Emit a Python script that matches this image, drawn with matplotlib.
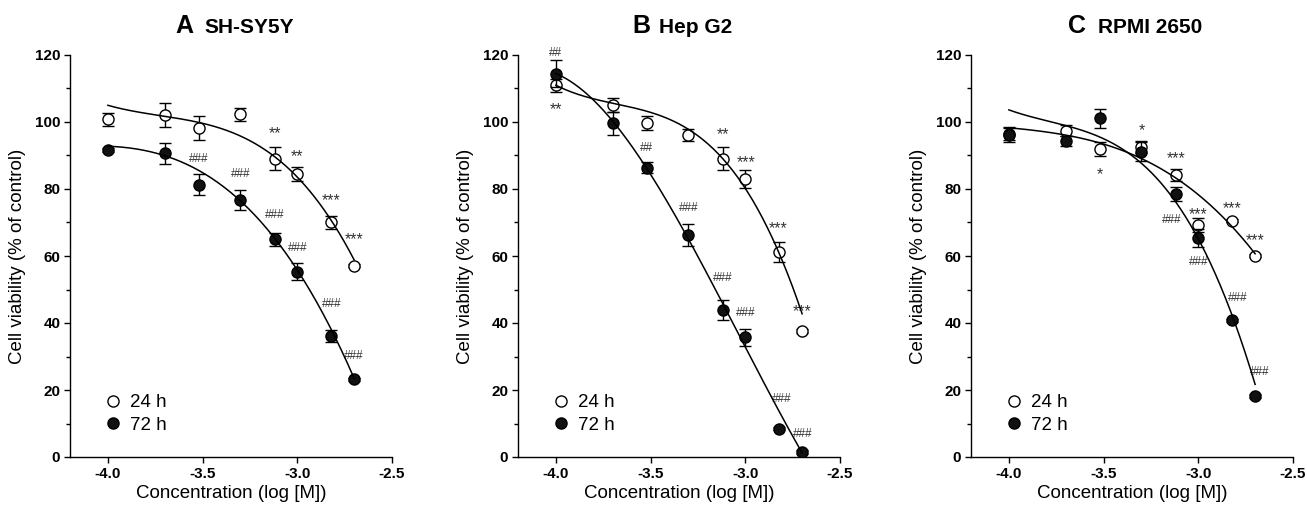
import numpy as np
import matplotlib
matplotlib.use("Agg")
import matplotlib.pyplot as plt
from matplotlib.ticker import MultipleLocator

plt.rcParams['font.family'] = ['Liberation Sans', 'DejaVu Sans']

# concentrations (log M): 0.1, 0.2, 0.3, 0.5, 0.75, 1, 1.5, 2 mM
conc = [-4.0, -3.70, -3.52, -3.30, -3.12, -3.00, -2.82, -2.70]

panels = ['A', 'B', 'C']
cells = ['SH-SY5Y', 'Hep G2', 'RPMI 2650']

# mean viability (% of control) and SEM
a24 = [100.8, 102.1, 98.1, 102.3, 89.1, 84.5, 70.0, 57.1]
a24_err = [2.0, 3.7, 3.6, 2.0, 3.3, 2.0, 2.0, 0.5]
a72 = [91.6, 90.6, 81.3, 76.7, 65.0, 55.3, 36.2, 23.2]
a72_err = [0.5, 3.0, 3.2, 3.0, 2.0, 2.6, 1.8, 0.5]

b24 = [110.9, 105.1, 99.6, 96.2, 89.1, 82.9, 61.2, 37.6]
b24_err = [2.0, 2.0, 2.1, 1.8, 3.5, 2.7, 3.1, 0.5]
b72 = [114.4, 99.6, 86.4, 66.4, 43.8, 35.7, 8.5, 1.5]
b72_err = [4.0, 3.5, 1.7, 3.3, 3.0, 2.6, 0.5, 0.5]

c24 = [96.5, 97.4, 92.0, 92.5, 84.3, 69.2, 70.5, 60.1]
c24_err = [2.0, 1.7, 2.1, 1.8, 1.8, 2.0, 0.5, 0.5]
c72 = [96.1, 94.3, 101.1, 91.1, 78.4, 65.4, 40.8, 18.2]
c72_err = [2.0, 1.5, 2.8, 2.8, 2.1, 2.7, 0.5, 0.5]

# fitted curves, read at the concentrations
a24_fit = [104.8, 102.4, 99.6, 95.1, 89.4, 84.7, 70.2, 58.8]
a72_fit = [92.8, 90.1, 84.9, 76.9, 65.7, 55.8, 37.1, 24.0]
b24_fit = [110.6, 106.8, 103.1, 96.4, 88.6, 81.2, 61.8, 41.8]
b72_fit = [114.5, 99.8, 86.7, 65.7, 44.3, 32.9, 14.9, 0.5]
c24_fit = [98.4, 95.8, 93.6, 89.8, 83.4, 77.7, 68.7, 60.8]
c72_fit = [103.6, 99.4, 94.6, 87.6, 77.7, 64.7, 40.8, 22.4]

# significance marks: (x, y, text)
a_marks = [(-3.12, 98.1, '**'), (-3.0, 91.3, '**'), (-2.82, 77.9, '***'), (-2.70, 66.5, '***'),
           (-3.52, 88.9, '###'), (-3.30, 84.4, '###'), (-3.12, 72.2, '###'), (-3.0, 62.5, '###'),
           (-2.82, 45.8, '###'), (-2.70, 30.2, '###')]
b_marks = [(-4.0, 120.7, '##'), (-4.0, 105.3, '**'), (-3.52, 92.1, '##'), (-3.12, 97.8, '**'),
           (-2.995, 89.3, '***'), (-3.30, 74.2, '###'), (-2.825, 69.7, '***'), (-3.12, 53.3, '###'),
           (-3.0, 43.1, '###'), (-2.70, 44.8, '***'), (-2.81, 17.4, '###'), (-2.695, 7.0, '###')]
c_marks = [(-3.30, 98.8, '*'), (-3.52, 85.9, '*'), (-3.115, 90.6, '***'), (-3.14, 70.7, '###'),
           (-3.0, 73.9, '***'), (-3.0, 58.1, '###'), (-2.82, 75.7, '***'), (-2.70, 66.2, '***'),
           (-2.79, 47.5, '###'), (-2.675, 25.4, '###')]

data = [(a24, a24_err, a72, a72_err, a24_fit, a72_fit, a_marks),
        (b24, b24_err, b72, b72_err, b24_fit, b72_fit, b_marks),
        (c24, c24_err, c72, c72_err, c24_fit, c72_fit, c_marks)]

letter_x = [0.326, 0.354, 0.301]
name_x = [0.416, 0.438, 0.394]
lefts = [70, 518, 971]

fig = plt.figure(figsize=(13.07, 5.07), dpi=100)

for i in range(3):
    y24, e24, y72, e72, f24, f72, marks = data[i]
    ax = fig.add_axes([lefts[i] / 1307, 50 / 507, 322 / 1307, 402 / 507])

    ax.errorbar(conc, y24, yerr=e24, fmt='o', ms=8, mfc='white', mec='black', mew=1.0,
                ecolor='black', elinewidth=1.0, capsize=4, capthick=1.0, zorder=3, label='24 h')
    ax.errorbar(conc, y72, yerr=e72, fmt='o', ms=8, mfc='#111111', mec='black', mew=1.0,
                ecolor='black', elinewidth=1.0, capsize=4, capthick=1.0, zorder=4, label='72 h')

    # smooth fit lines, drawn over the symbols
    xs = np.linspace(conc[0], conc[-1], 200)
    for f in (f24, f72):
        p = np.polyfit(conc, f, 3)
        ax.plot(xs, np.polyval(p, xs), color='black', lw=1.1, zorder=5)

    for x, y, t in marks:
        if '*' in t:
            ax.text(x, y - 1.5, t, ha='center', va='center', fontsize=11.5, color='#333333')
        else:
            ax.text(x, y, t, ha='center', va='center', fontsize=8.5, color='#333333')

    ax.set_xlim(-4.2, -2.5)
    ax.set_ylim(0, 120)
    ax.set_xticks([-4.0, -3.5, -3.0, -2.5])
    ax.set_xticklabels(['-4.0', '-3.5', '-3.0', '-2.5'])
    ax.yaxis.set_major_locator(MultipleLocator(20))
    ax.yaxis.set_minor_locator(MultipleLocator(10))
    for lab in ax.get_xticklabels() + ax.get_yticklabels():
        lab.set_fontweight('bold')
    ax.tick_params(axis='both', which='major', labelsize=11, length=4, width=1, pad=3)
    ax.tick_params(axis='y', which='minor', length=3, width=1)
    ax.spines['top'].set_visible(False)
    ax.spines['right'].set_visible(False)
    ax.spines['left'].set_linewidth(1)
    ax.spines['bottom'].set_linewidth(1)

    ax.set_xlabel('Concentration (log [M])', fontsize=13.5, labelpad=3)
    ax.set_ylabel('Cell viability (% of control)', fontsize=13.5, labelpad=6)

    ax.text(letter_x[i], 1.055, panels[i], transform=ax.transAxes, fontsize=18,
            fontweight='bold', ha='left', va='baseline')
    ax.text(name_x[i], 1.055, cells[i], transform=ax.transAxes, fontsize=15,
            fontweight='bold', ha='left', va='baseline')

    handles, labels = ax.get_legend_handles_labels()
    handles = [h[0] for h in handles]
    ax.legend(handles, labels, loc='lower left', bbox_to_anchor=(0.065, 0.025), frameon=False,
              fontsize=13.5, handlelength=1.0, handletextpad=0.4, labelspacing=0.3,
              borderaxespad=0.3)

fig.savefig('out.png', dpi=100)
